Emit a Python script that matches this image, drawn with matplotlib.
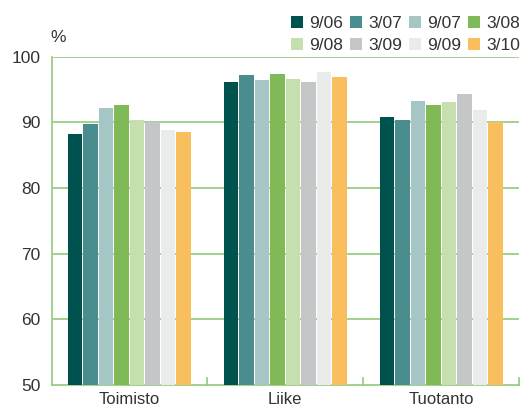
import matplotlib
matplotlib.use("Agg")
import matplotlib.pyplot as plt
import numpy as np
from matplotlib.patches import Patch

plt.rcParams['font.family'] = ['Liberation Sans', 'DejaVu Sans']

categories = ["Toimisto", "Liike", "Tuotanto"]
series = ["9/06", "3/07", "9/07", "3/08", "9/08", "3/09", "9/09", "3/10"]
values = {
    "9/06": [88.2, 96.1, 90.8],
    "3/07": [89.7, 97.2, 90.35],
    "9/07": [92.2, 96.45, 93.25],
    "3/08": [92.6, 97.35, 92.6],
    "9/08": [90.35, 96.6, 93.1],
    "3/09": [90.05, 96.1, 94.3],
    "9/09": [88.8, 97.65, 91.9],
    "3/10": [88.5, 96.9, 90.05],
}
colors = ["#00524f", "#4a8d8e", "#a6c6c5", "#7fba56", "#c6dfae", "#c5c6c8", "#eaeceb", "#f9be5e"]
yticks = [50, 60, 70, 80, 90, 100]

green = "#93c97a"
text_color = "#333333"

fig = plt.figure(figsize=(5.28, 4.09), dpi=100)
ax = fig.add_axes([51.5 / 528, 1 - 385 / 409, (519 - 51.5) / 528, (385 - 56.7) / 409])

x = np.arange(len(categories))
step = 0.0994
width = 0.093
n = len(series)
for i, (s, c) in enumerate(zip(series, colors)):
    off = (i - (n - 1) / 2) * step
    ax.bar(x + off, np.array(values[s]) - 50, width=width, bottom=50, color=c, zorder=3, linewidth=0)

ax.set_xlim(-0.5, 2.5)
ax.set_ylim(50, 100)
ax.set_yticks(yticks)
ax.set_yticklabels([str(t) for t in yticks], fontsize=12.5, color=text_color)
ax.tick_params(axis='y', length=0, pad=8)
for t in yticks[1:]:
    ax.axhline(t, color=green, lw=1.2, zorder=1)

ax.set_xticks(x)
ax.set_xticklabels(categories, fontsize=12, color=text_color)
ax.tick_params(axis='x', length=0, pad=5)
for b in [0.5, 1.5, 2.5]:
    ax.plot([b, b], [50, 51.1], color=green, lw=1.2, zorder=4, clip_on=False)

for sp in ["top", "right"]:
    ax.spines[sp].set_visible(False)
for sp in ["left", "bottom"]:
    ax.spines[sp].set_color(green)
    ax.spines[sp].set_linewidth(1.2)

fig.text(50 / 528, 1 - 38 / 409, "%", fontsize=12.5, color=text_color, ha="left", va="center")

handles = [Patch(facecolor=c, edgecolor='none') for c in colors]
order = [0, 4, 1, 5, 2, 6, 3, 7]
leg = fig.legend([handles[k] for k in order], [series[k] for k in order],
                 loc="upper right", bbox_to_anchor=(529 / 528, 1 - 7 / 409),
                 ncol=4, frameon=False, fontsize=12.5, handlelength=0.7, handleheight=0.7,
                 handletextpad=0.35, columnspacing=0.4, labelspacing=0.4, borderpad=0.0)
for t in leg.get_texts():
    t.set_color(text_color)

fig.savefig("out.png", dpi=100)
